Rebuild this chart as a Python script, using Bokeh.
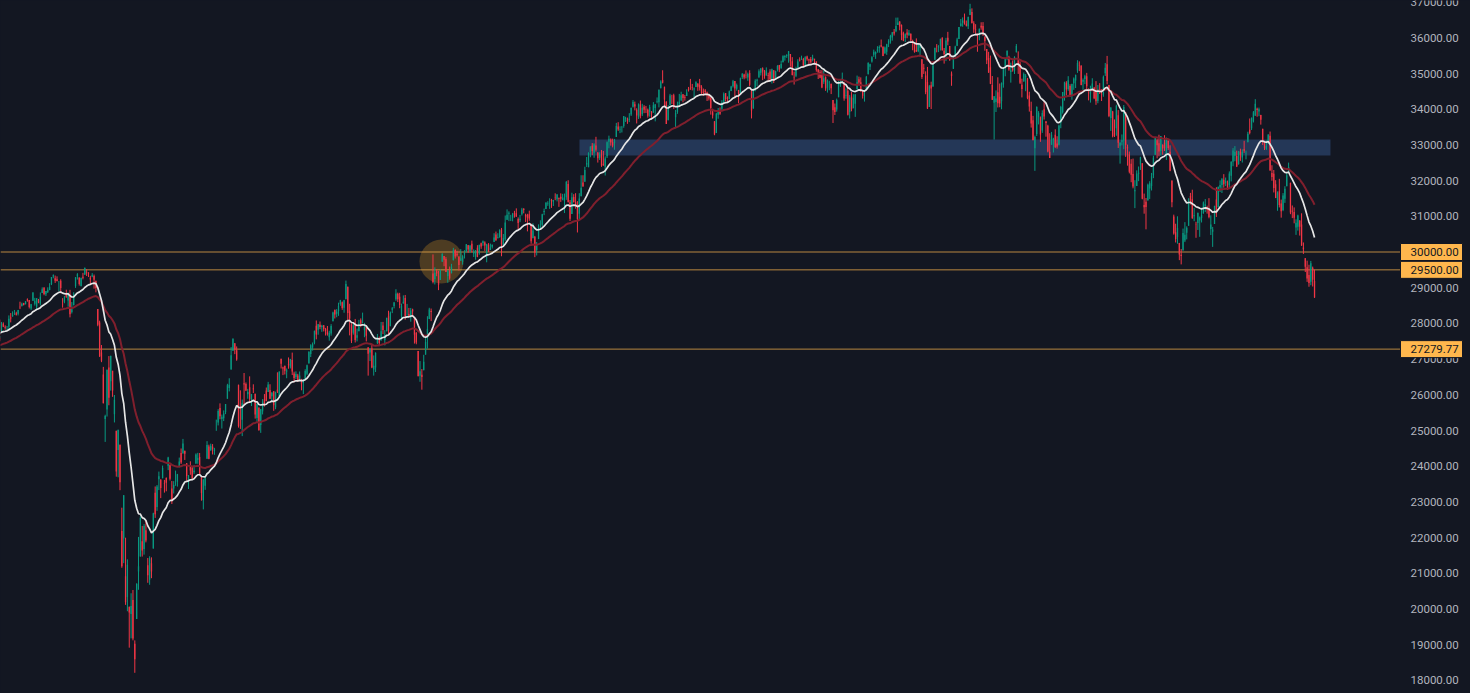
from bokeh.plotting import figure
from bokeh.models import Range1d, ColumnDataSource, GlobalInlineStyleSheet
from bokeh.core.properties import value
from bokeh.embed import file_html
from bokeh.resources import INLINE

# ---------------- data: Dow Jones daily bars (open, high, low, close) ----------------
# closes before the first bar, only used to seed the moving averages
warmup_close = [
    26573, 26079, 26202, 26573, 26478, 26165, 26347, 26497, 26817, 26787, 27025, 27001,
    27026, 26770, 26828, 26788, 26834, 26806, 26958, 27091, 27071, 27186, 27046,
    27347, 27462, 27492, 27493, 27675, 27681, 27691, 27691, 27784, 27782, 28005, 28036,
    27934, 27821, 27766, 27876, 28066, 28122, 28164, 28051,
]

m2019_12 = [(28109,28143,27726,27783),(27600,27601,27325,27503),(27593,27724,27593,27650),(27704,27712,27561,27677),(27773,28041,27773,28015),(27989,28029,27895,27909),(27906,27947,27825,27881),(27909,27925,27801,27911),(27906,28224,27842,28132),(28168,28290,28028,28135),(28191,28337,28191,28235),(28264,28376,28236,28267),(28285,28327,28221,28239),(28267,28377,28224,28376),(28470,28608,28402,28455),(28491,28582,28473,28551),(28573,28576,28503,28515),(28539,28621,28535,28621),(28676,28701,28608,28645),(28654,28654,28419,28462),(28419,28547,28376,28538)]
m2020_01 = [(28638,28872,28627,28868),(28553,28716,28500,28634),(28465,28708,28384,28703),(28640,28685,28565,28583),(28556,28866,28502,28745),(28852,29010,28850,28956),(29005,29009,28789,28824),(28819,28908,28768,28907),(28875,29010,28853,28940),(28939,29127,28928,29030),(29097,29298,29073,29297),(29317,29373,29264,29348),(29262,29341,29134,29196),(29240,29318,29175,29186),(29158,29188,28903,29160),(29194,29236,28843,28990),(28542,28707,28441,28535),(28604,28770,28564,28723),(28821,28944,28718,28734),(28640,28859,28469,28859),(28813,28940,28169,28256)]
m2020_02 = [(28319,28599,28278,28400),(28508,28873,28508,28807),(29049,29297,28995,29291),(29319,29408,29229,29380),(29287,29287,29059,29103),(29043,29277,29043,29276),(29306,29416,29234,29276),(29365,29568,29365,29551),(29438,29521,29328,29424),(29422,29434,29300,29398),(29279,29333,29095,29232),(29314,29409,29294,29348),(29329,29368,28973,29220),(29194,29194,28870,28992),(28402,28402,27921,27961),(28022,28076,27058,27081),(27188,27394,26915,26957),(26572,26782,25760,25766),(25320,25442,24681,25409)]
m2020_03 = [(25590,26706,25391,26703),(26762,27084,25707,25917),(26383,27091,26117,27091),(26671,26671,25943,26121),(25457,25994,25226,25865),(24992,24992,23707,23851),(24453,25020,23690,25018),(24604,24604,23328,23553),(22184,22838,21154,21200),(21973,23190,21285,23185),(20917,21998,20116,20189),(20333,21391,19938,21237),(20060,20066,18917,19899),(19860,20441,19178,20087),(20253,20532,19122,19174),(19028,19121,18213,18592),(19722,20719,19722,20704),(21050,22019,20538,21200),(21469,22595,21469,22552),(21898,22327,21469,21637),(21678,22378,21522,22327),(22208,22481,21866,21917)]
m2020_04 = [(21227,21428,20735,20943),(20819,21477,20679,21413),(21285,21447,20863,21053),(21693,22697,21693,22680),(23253,23433,22552,22654),(22858,23473,22750,23434),(23634,23849,23331,23719),(23629,23629,23106,23390),(23667,24017,23657,23950),(23519,23616,23260,23505),(23672,23687,23297,23538),(24016,24264,23890,24242),(24025,24043,23600,23650),(23373,23585,22941,23019),(23378,23582,23236,23475),(23515,23877,23451,23515),(23563,23785,23429,23775),(23974,24242,23972,24134),(24371,24497,24062,24101),(24358,24765,24358,24634),(24433,24433,24176,24346)]
m2020_05 = [(24084,24084,23596,23724),(23589,23749,23361,23750),(23978,24137,23760,23883),(23962,24007,23636,23665),(23830,24029,23784,23876),(24077,24359,24066,24331),(24180,24375,24067,24222),(24260,24369,23764,23765),(23703,23722,23035,23248),(23049,23636,22790,23625),(23452,23697,23338,23685),(24207,24702,24207,24597),(24553,24603,24195,24207),(24448,24632,24431,24576),(24542,24620,24329,24474),(24425,24514,24319,24465),(24991,25305,24991,24995),(25223,25598,25142,25548),(25632,25760,25314,25401),(25319,25446,25055,25383)]
m2020_06 = [(25342,25562,25264,25475),(25516,25742,25458,25742),(25890,26308,25890,26270),(26192,26463,26095,26282),(26707,27338,26707,27111),(27232,27581,27232,27572),(27447,27447,27139,27272),(27251,27355,26954,26990),(26282,26282,25082,25128),(25659,26125,25045,25606),(25300,25867,24843,25763),(26326,26611,25736,26290),(26302,26346,26104,26120),(26013,26166,25890,26080),(26212,26517,25772,25871),(25883,26025,25685,26025),(26175,26294,26051,26156),(26030,26030,25333,25445),(25352,25760,25241,25746),(25641,25641,24991,25016),(25152,25604,24934,25595),(25536,25880,25450,25813)]
m2020_07 = [(25879,26021,25671,25735),(26119,26204,25819,25827),(26080,26362,26080,26287),(26136,26295,25885,25890),(25959,26068,25823,26067),(26102,26102,25551,25706),(25650,26089,25597,26075),(26145,26630,26050,26086),(25935,26660,25908,26643),(27009,27009,26737,26870),(26766,26787,26552,26735),(26815,26815,26569,26672),(26656,26737,26464,26681),(26868,27047,26730,26840),(26793,27005,26738,27005),(26977,27182,26553,26652),(26594,26648,26347,26470),(26497,26657,26442,26584),(26538,26587,26363,26379),(26417,26653,26417,26540),(26358,26447,26126,26314),(26333,26428,26020,26428)]
m2020_08 = [(26434,26716,26434,26665),(26593,26845,26550,26828),(26880,27223,26880,27202),(27143,27417,27057,27387),(27326,27466,27239,27433),(27452,27799,27414,27791),(27937,28081,27554,27687),(27824,27985,27683,27977),(27960,28053,27836,27897),(27899,27960,27764,27931),(27948,27951,27775,27845),(27845,27874,27661,27779),(27769,27928,27658,27693),(27613,27795,27516,27740),(27719,27979,27656,27930),(28059,28327,28059,28308),(28384,28384,28137,28249),(28268,28400,28172,28332),(28342,28580,28212,28493),(28540,28660,28493,28654),(28592,28613,28380,28430)]
m2020_09 = [(28439,28659,28298,28646),(28679,29199,28679,29101),(29030,29030,28081,28293),(28341,28550,27665,28134),(27964,28002,27449,27501),(27739,28025,27686,27940),(28004,28125,27465,27535),(27600,27856,27496,27666),(27782,28100,27782,27993),(28091,28140,27893,28000),(28032,28302,28000,28032),(27808,28016,27613,27902),(27897,27931,27495,27657),(27330,27330,26537,27148),(27185,27305,26946,27289),(27297,27437,26745,26763),(26707,27103,26537,26815),(26766,27190,26638,27174),(27446,27704,27422,27584),(27554,27631,27365,27452),(27528,28041,27513,27782)]
m2020_10 = [(27942,28042,27700,27817),(27536,27812,27383,27683),(27777,28163,27777,28149),(28202,28355,27696,27773),(27922,28332,27922,28303),(28383,28459,28288,28426),(28488,28602,28421,28587),(28676,28958,28632,28838),(28834,28862,28597,28680),(28749,28856,28425,28514),(28215,28554,28088,28494),(28561,28785,28557,28606),(28714,28797,28102,28196),(28305,28546,28216,28309),(28261,28434,28195,28211),(28163,28433,28048,28364),(28392,28412,28178,28336),(28163,28163,27435,27685),(27735,27756,27416,27464),(27228,27228,26520,26520),(26531,26946,26365,26660),(26564,26723,26143,26502)]
m2020_11 = [(26688,27121,26688,26925),(27125,27662,27125,27481),(27652,28202,27292,27848),(28120,28438,28120,28390),(28348,28416,28064,28323),(29400,29933,29122,29158),(29244,29570,29091,29421),(29462,29518,29322,29398),(29338,29472,28932,29080),(29217,29511,29217,29480),(29736,29964,29720,29950),(29887,29887,29602,29784),(29801,29856,29438,29438),(29329,29483,29137,29483),(29462,29593,29223,29263),(29408,29669,29400,29591),(29767,30116,29767,30046),(30056,30076,29817,29872),(29951,30033,29870,29910),(29876,29876,29481,29639)]
m2020_12 = [(29758,30082,29754,29824),(29727,29912,29645,29883),(29931,30051,29818,29969),(30031,30224,29987,30218),(30189,30197,29979,30070),(30018,30197,29981,30174),(30230,30320,29990,30068),(29956,30073,29860,29999),(29870,30054,29784,30046),(30120,30191,29854,29861),(29967,30201,29923,30200),(30248,30263,30089,30155),(30254,30323,30174,30304),(30264,30300,30030,30179),(29928,30229,29712,30216),(30205,30249,30001,30015),(30058,30235,30058,30129),(30150,30209,30098,30200),(30283,30526,30283,30404),(30492,30573,30307,30336),(30388,30526,30381,30410),(30417,30637,30398,30606)]
m2021_01 = [(30627,30674,29881,30224),(30204,30504,30154,30392),(30347,31022,30313,30829),(30904,31193,30897,31041),(31069,31140,30865,31098),(30997,31041,30869,30998),(30963,31095,30860,31069),(31085,31154,30963,31061),(31083,31223,30991,30991),(30926,30969,30646,30814),(30887,31038,30835,30930),(31058,31237,31021,31188),(31213,31228,31084,31176),(31045,31073,30841,30997),(31040,31070,30578,30960),(31059,31158,30874,30937),(30788,30788,30231,30303),(30388,30805,30388,30604),(30427,30451,29856,29983)]
m2021_02 = [(30055,30278,29903,30212),(30361,30774,30361,30688),(30712,30889,30652,30724),(30766,31071,30711,31056),(31119,31216,31032,31148),(31202,31389,31202,31386),(31360,31422,31293,31376),(31435,31505,31208,31438),(31460,31488,31235,31431),(31408,31461,31289,31458),(31524,31644,31451,31523),(31475,31622,31418,31613),(31519,31519,31265,31494),(31550,31643,31403,31494),(31458,31629,31449,31522),(31432,31637,31091,31537),(31532,31991,31460,31962),(31902,32010,31385,31403),(31397,31457,30870,30932)]
m2021_03 = [(31066,31660,31066,31535),(31539,31619,31391,31391),(31399,31648,31213,31270),(31225,31425,30547,30924),(31074,31648,30894,31496),(31561,32150,31561,31802),(31944,32150,31831,31833),(31970,32389,31970,32297),(32451,32661,32380,32486),(32376,32793,32376,32779),(32800,32960,32653,32953),(32974,33051,32712,32826),(32782,33048,32640,33015),(32980,33227,32813,32862),(32777,32802,32505,32628),(32637,32795,32578,32732),(32700,32858,32385,32423),(32470,32829,32419,32420),(32390,32680,32142,32619),(32681,33098,32632,33073),(33089,33259,32906,33171),(33152,33182,32979,33067),(33075,33175,32931,32982)]
m2021_04 = [(33055,33167,32865,33153),(33222,33617,33222,33527),(33514,33636,33392,33430),(33431,33521,33329,33446),(33492,33531,33348,33504),(33531,33810,33481,33801),(33726,33787,33643,33746),(33711,33765,33590,33677),(33705,33889,33639,33730),(33849,34049,33811,34036),(34070,34256,34047,34201),(34137,34213,33967,34078),(33985,34027,33601,33821),(33782,34163,33727,34137),(34133,34244,33744,33815),(33859,34151,33808,34043),(34068,34113,33889,33982),(33992,34091,33894,33985),(33985,34018,33763,33820),(33923,34122,33790,34060),(33941,33941,33730,33875)]
m2021_05 = [(33904,34198,33904,34113),(34032,34147,33660,34133),(34218,34330,34165,34230),(34194,34551,34050,34548),(34586,34811,34586,34778),(34818,35091,34723,34743),(34630,34630,34060,34270),(34218,34218,33587,33587),(33691,34111,33691,34021),(34111,34430,34111,34382),(34329,34403,34148,34327),(34390,34433,34010,34061),(33775,33978,33473,33896),(33917,34212,33871,34084),(34128,34429,34126,34208),(34251,34490,34230,34394),(34418,34421,34194,34312),(34343,34400,34240,34323),(34371,34558,34371,34465),(34558,34624,34495,34529)]
m2021_06 = [(34584,34849,34540,34575),(34618,34708,34527,34600),(34550,34610,34318,34577),(34619,34783,34619,34756),(34722,34722,34514,34630),(34677,34849,34523,34600),(34631,34673,34425,34447),(34491,34578,34376,34466),(34526,34563,34400,34480),(34468,34494,34229,34393),(34410,34436,34245,34300),(34311,34340,33848,34033),(33918,34012,33740,33823),(33663,33663,33271,33290),(33331,33898,33331,33876),(33842,34033,33733,33945),(33953,34050,33841,33874),(34011,34254,33972,34196),(34196,34470,34196,34433),(34451,34451,34214,34283),(34318,34359,34205,34292),(34294,34522,34274,34503)]
m2021_07 = [(34507,34656,34507,34633),(34642,34821,34606,34786),(34790,34790,34302,34577),(34570,34719,34518,34681),(34541,34541,34168,34422),(34457,34885,34457,34870),(34897,35011,34845,34996),(34973,34993,34838,34889),(34940,35086,34862,34933),(34887,35025,34796,34987),(35014,35091,34648,34688),(34521,34521,33741,33962),(34017,34582,34017,34512),(34531,34838,34503,34798),(34797,34853,34652,34823),(34886,35116,34886,35062),(35022,35144,34944,35144),(35149,35172,34815,35059),(35062,35097,34853,34931),(34943,35171,34943,35085),(34958,35023,34759,34935)]
m2021_08 = [(35053,35122,34784,34838),(34836,35136,34719,35117),(35092,35092,34734,34793),(34845,35079,34828,35065),(35107,35236,35058,35209),(35241,35241,35038,35102),(35143,35360,35143,35265),(35312,35510,35312,35485),(35454,35508,35360,35500),(35497,35540,35439,35516),(35502,35631,35302,35625),(35545,35545,35192,35343),(35345,35458,34946,34961),(34899,35055,34690,34894),(34937,35190,34899,35120),(35164,35400,35164,35336),(35388,35453,35337,35367),(35382,35500,35382,35406),(35407,35438,35209,35214),(35242,35485,35181,35456),(35479,35500,35357,35400),(35401,35414,35245,35361)]
m2021_09 = [(35406,35462,35276,35313),(35377,35525,35341,35444),(35412,35412,35287,35369),(35339,35339,35051,35101),(35118,35118,34846,35032),(35040,35096,34867,34879),(34956,35091,34589,34608),(34770,35085,34708,34870),(34901,34921,34514,34578),(34600,34833,34465,34814),(34740,34795,34530,34751),(34714,34714,34424,34584),(34257,34257,33614,33970),(34056,34159,33838,33920),(33993,34296,33931,34258),(34335,34798,34335,34765),(34663,34823,34625,34798),(34850,35026,34717,34870),(34754,34754,34237,34300),(34378,34582,34294,34390),(34520,34600,33825,33844)]
m2021_10 = [(33924,34395,33740,34326),(34357,34483,33942,34003),(34027,34419,34027,34315),(34153,34418,33785,34417),(34556,34942,34556,34755),(34837,34912,34673,34746),(34753,34891,34492,34496),(34510,34541,34298,34378),(34364,34509,34213,34378),(34539,34932,34539,34912),(34976,35316,34976,35295),(35189,35275,35097,35259),(35335,35486,35305,35458),(35528,35669,35466,35609),(35548,35620,35410,35603),(35630,35765,35583,35677),(35707,35787,35582,35741),(35795,35952,35730,35757),(35751,35760,35486,35491),(35560,35756,35560,35731),(35611,35832,35522,35820)]
m2021_11 = [(35833,35960,35741,35913),(35898,36085,35836,36053),(36011,36159,35921,36158),(36173,36247,36063,36124),(36185,36565,36157,36328),(36359,36567,36359,36432),(36455,36464,36211,36320),(36359,36375,35933,36080),(36139,36171,35905,35921),(35993,36124,35880,36100),(36152,36244,35988,36087),(36065,36217,36065,36142),(36112,36121,35902,35931),(35913,35947,35651,35871),(35866,35878,35583,35601),(35660,35984,35604,35619),(35620,35837,35597,35814),(35724,35811,35470,35804),(35398,35398,34847,34899),(35164,35269,34988,35136),(34946,35061,34420,34484)]
m2021_12 = [(34765,35184,34006,34022),(34065,34680,34065,34640),(34670,34771,34006,34580),(34638,35275,34630,35227),(35384,35719,35384,35719),(35766,35824,35592,35754),(35726,35794,35599,35754),(35779,35972,35644,35971),(35999,36015,35641,35650),(35635,35715,35277,35544),(35567,35999,35348,35927),(36002,36167,35790,35898),(35767,35767,35364,35365),(35000,35057,34656,34932),(35131,35494,35126,35493),(35464,35778,35437,35754),(35777,36001,35767,35950),(35964,36302,35964,36302),(36321,36527,36321,36398),(36421,36571,36311,36488),(36489,36679,36369,36398),(36396,36484,36317,36338)]
m2022_01 = [(36321,36595,36246,36585),(36636,36953,36636,36800),(36722,36825,36407,36408),(36409,36464,36139,36236),(36249,36382,36111,36231),(36114,36114,35609,36068),(36069,36259,35931,36252),(36337,36435,36226,36290),(36328,36439,36050,36114),(36034,36034,35638,35912),(35683,35683,35264,35369),(35435,35607,35018,35029),(35176,35503,34703,34715),(34681,34929,34258,34265),(34183,34366,33150,34365),(34202,34527,33921,34298),(34473,34893,34049,34168),(34349,34719,34054,34160),(34221,34750,33998,34725),(34693,35152,34603,35132)]
m2022_02 = [(35157,35406,34922,35405),(35507,35652,35371,35630),(35461,35496,35077,35111),(35039,35305,34744,35089),(35153,35366,35052,35091),(35070,35483,34987,35463),(35599,35825,35584,35768),(35362,35620,34989,35242),(35271,35338,34705,34738),(34686,34855,34330,34566),(34774,35029,34774,34989),(34894,34984,34504,34935),(34859,34877,34279,34312),(34385,34489,33933,34079),(33949,34211,33485,33597),(33694,33814,33131,33132),(32906,33260,32273,33224),(33304,34081,33250,34059),(33774,33946,33574,33893)]
m2022_03 = [(33777,33797,33086,33295),(33401,33969,33337,33891),(34002,34227,33710,33795),(33660,33660,33230,33615),(33535,33564,32791,32818),(32805,33327,32632,32633),(33003,33364,33003,33286),(33128,33200,32787,33174),(33287,33437,32910,32944),(33036,33243,32896,32945),(33006,33567,32985,33545),(33620,34095,33467,34064),(33918,34482,33876,34481),(34342,34770,34240,34755),(34742,34786,34382,34553),(34567,34925,34517,34808),(34648,34699,34351,34359),(34397,34716,34263,34708),(34726,34890,34542,34862),(34801,34971,34593,34956),(35081,35372,35018,35294),(35235,35340,35067,35229),(35217,35233,34670,34678)]
m2022_04 = [(34769,34861,34540,34818),(34848,34965,34704,34922),(34920,35018,34554,34641),(34542,34585,34247,34497),(34433,34658,34185,34584),(34566,34867,34566,34721),(34604,34624,34282,34309),(34479,34787,34122,34221),(34229,34677,34167,34565),(34568,34730,34426,34452),(34429,34562,34229,34412),(34412,34943,34349,34912),(35009,35296,34931,35161),(35256,35493,34698,34793),(34681,34681,33777,33811),(33752,34054,33392,34049),(33934,33953,33211,33240),(33321,33714,33222,33302),(33469,34125,33257,34098),(33831,33975,32914,33061)]
m2022_05 = [(32978,33073,32475,33062),(33091,33293,32987,33129),(33121,34118,32880,34061),(33918,33918,32665,32998),(32938,33009,32418,32900),(32729,32814,32202,32246),(32469,32600,31954,32161),(32185,32617,31784,31834),(31700,32011,31229,31730),(31849,32287,31849,32197),(32195,32395,31985,32223),(32452,32669,32298,32655),(32486,32486,31476,31490),(31320,31636,31073,31254),(31406,31513,30635,31262),(31446,31915,31446,31881),(31779,31982,31485,31929),(31850,32215,31723,32121),(32145,32697,32069,32637),(32722,33213,32722,33213),(33129,33171,32625,32990)]
m2022_06 = [(33046,33285,32680,32813),(32828,33249,32701,33248),(32994,33019,32724,32900),(33062,33272,32830,32916),(32710,33206,32576,33180),(33119,33161,32860,32911),(32806,32989,32262,32273),(32002,32003,31254,31393),(30998,31047,30486,30517),(30551,30792,30267,30365),(30422,31000,30232,30669),(30255,30255,29772,29927),(29922,30085,29653,29889),(30044,30656,30044,30530),(30324,30837,30278,30484),(30541,30720,30353,30677),(30735,31501,30735,31501),(31570,31656,31330,31439),(31479,31745,30931,30947),(31004,31234,30863,31029),(30784,30846,30398,30775)]
m2022_07 = [(30814,31100,30617,31097),(30886,30996,30425,30968),(30950,31243,30827,31037),(31081,31415,31078,31385),(31281,31483,31119,31338),(31247,31298,31075,31174),(31194,31508,30944,30982),(30646,31027,30476,30773),(30567,30703,30143,30631),(30784,31297,30784,31289),(31469,31815,30981,31073),(31255,31829,31255,31827),(31810,32006,31680,31875),(31875,32071,31653,32037),(32021,32181,31802,31899),(31935,32086,31846,31991),(31944,32001,31738,31762),(31876,32258,31784,32198),(32137,32541,31978,32529),(32530,32910,32402,32845)]
m2022_08 = [(32695,32966,32542,32798),(32686,32839,32379,32397),(32467,32832,32443,32813),(32815,32894,32552,32727),(32648,32876,32506,32803),(32878,33113,32777,32833),(32763,32840,32594,32775),(33076,33369,33076,33310),(33422,33740,33295,33337),(33466,33767,33418,33761),(33656,33949,33627,33913),(33817,34281,33817,34153),(34016,34043,33790,33981),(33939,34044,33804,33999),(33841,33843,33568,33707),(33450,33450,32998,33064),(33049,33114,32857,32910),(32886,33124,32859,32970),(33051,33296,33026,33292),(33257,33374,32279,32283),(32212,32430,31997,32099),(32194,32297,31668,31791),(31900,32012,31509,31510)]
m2022_09 = [(31456,31698,31155,31656),(31699,32050,31248,31318),(31357,31468,30962,31145),(31174,31650,31144,31581),(31492,31843,31376,31775),(31843,32211,31843,32152),(32230,32504,32220,32381),(31939,31939,31059,31105),(31155,31303,30949,31135),(31123,31249,30803,30962),(30683,30916,30479,30822),(30705,31045,30600,31020),(30879,30896,30460,30706),(30770,31084,30172,30184),(30128,30268,29946,30077),(29826,29830,29439,29590),(29571,29758,29163,29261),(29356,29643,29027,29135),(29165,29751,29070,29684),(29558,29592,29033,29226),(29190,29506,28715,28726)]

months = [m2019_12, m2020_01, m2020_02, m2020_03, m2020_04, m2020_05, m2020_06,
          m2020_07, m2020_08, m2020_09, m2020_10, m2020_11, m2020_12,
          m2021_01, m2021_02, m2021_03, m2021_04, m2021_05, m2021_06,
          m2021_07, m2021_08, m2021_09, m2021_10, m2021_11, m2021_12,
          m2022_01, m2022_02, m2022_03, m2022_04, m2022_05, m2022_06,
          m2022_07, m2022_08, m2022_09]

# horizontal price levels and their tags
level_prices = [30000, 29500, 27279.77]
level_texts = ["30000.00", "29500.00", "27279.77"]
# supply/demand zone (bar index range, price range)
zone_bars = [316.1, 721.6]
zone_prices = [32705, 33150]
# highlighted spot (bar index, price)
highlight_bar = 241.6
highlight_price = 29735
# price-scale ticks
price_ticks = list(range(18000, 37001, 1000))
ema_fast_len, ema_slow_len = 20, 50

# ---------------- build columns ----------------
rows = [r for m in months for r in m]
opens = [r[0] for r in rows]
highs = [r[1] for r in rows]
lows = [r[2] for r in rows]
closes = [r[3] for r in rows]
idx = list(range(len(rows)))
colors = ["#089981" if c >= o else "#f23645" for o, c in zip(opens, closes)]
tops = [max(o, c) for o, c in zip(opens, closes)]
bots = [min(o, c) for o, c in zip(opens, closes)]


def ema(vals, n):
    k = 2.0 / (n + 1)
    out, e = [], vals[0]
    for v in vals:
        e = e + k * (v - e)
        out.append(e)
    return out


all_close = warmup_close + closes
ema_fast = ema(all_close, ema_fast_len)[len(warmup_close):]
ema_slow = ema(all_close, ema_slow_len)[len(warmup_close):]

src = ColumnDataSource(dict(x=idx, o=opens, h=highs, l=lows, c=closes,
                            top=tops, bot=bots, color=colors))

BG = "#131722"
W, H = 1470, 693
BAR_PX = 1.852                 # pixels per bar
X_START = 3.48                 # bar index at the left edge
X_END = X_START + W / BAR_PX
SCALE_X = X_START + 1400 / BAR_PX       # where the price scale begins
TICK_X = X_START + 1410 / BAR_PX        # left edge of scale labels
TAG_X = X_START + 1431 / BAR_PX         # centre of price tags
PX_PER_PT = 0.0357
Y_TOP = 37045
Y_BOT = Y_TOP - H / PX_PER_PT

p = figure(frame_width=W, frame_height=H, output_backend="svg", toolbar_location=None,
           x_range=Range1d(X_START, X_END), y_range=Range1d(Y_BOT, Y_TOP),
           x_axis_location=None, y_axis_location=None,
           min_border_left=0, min_border_top=0, min_border_bottom=0, min_border_right=0)
p.background_fill_color = BG
p.border_fill_color = BG
p.outline_line_color = None
p.grid.visible = False

# zone
p.quad(left=[zone_bars[0]], right=[zone_bars[1]], bottom=[zone_prices[0]], top=[zone_prices[1]],
       fill_color="#243757", line_color=None)
# highlight circle
p.scatter(x=[highlight_bar], y=[highlight_price], size=44, marker="circle",
          fill_color="#f5a623", fill_alpha=0.26, line_color=None)

# level lines (up to the price scale)
p.segment(x0=[X_START] * len(level_prices), x1=[SCALE_X] * len(level_prices),
          y0=level_prices, y1=level_prices, line_color="#ffb74d", line_alpha=0.7, line_width=1)

# candles
p.segment(x0="x", x1="x", y0="l", y1="h", color="color", line_width=1, source=src)
p.vbar(x="x", width=0.7, top="top", bottom="bot", fill_color="color", line_color=None, source=src)

# moving averages
p.line(idx, ema_slow, line_color="#801f2d", line_width=2)
p.line(idx, ema_fast, line_color="#e6e6e6", line_width=1.7)

# price scale labels
p.text(x=[TICK_X] * len(price_ticks), y=price_ticks, text=[f"{t:.2f}" for t in price_ticks],
       text_align="left", text_baseline="middle", text_font=value("Roboto"),
       text_font_size="11.5px", text_color="#b2b5be")

# price tags
p.rect(x=[TAG_X] * len(level_prices), y=level_prices, width=62, height=17,
       width_units="screen", height_units="screen", fill_color="#ffb74d", line_color=BG,
       line_width=1)
p.text(x=[TICK_X] * len(level_prices), y=level_prices, text=level_texts,
       text_align="left", text_baseline="middle", text_font=value("Roboto"),
       text_font_size="11.5px", text_color="#131722")

p.stylesheets = [GlobalInlineStyleSheet(css="body { background-color: #131722; }")]

open("out.html", "w").write(file_html(p, INLINE))
